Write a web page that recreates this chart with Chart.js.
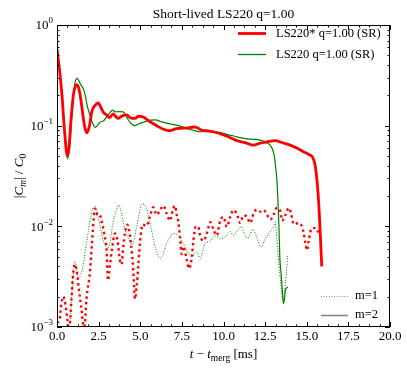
<!DOCTYPE html>
<html>
<head>
<meta charset="utf-8">
<script src="https://cdn.jsdelivr.net/npm/chart.js@4.4.0/dist/chart.umd.min.js"></script>
<style>
  html, body { margin: 0; padding: 0; background: #fff; }
  canvas { display: block; }
</style>
</head>
<body>
<canvas id="myChart" width="407" height="373"></canvas>
<script>
// LS220* (red) and LS220 (green), m=2 amplitude
const tRed2 = [0.0, 0.15, 0.3, 0.45, 0.62, 0.72, 0.85, 1.0, 1.2, 1.35, 1.5, 1.65, 1.8, 1.95, 2.1, 2.3, 2.47, 2.65, 2.8, 2.97, 3.15, 3.37, 3.55, 3.67, 3.9, 4.18, 4.4, 4.68, 4.9, 5.18, 5.5, 5.99, 6.4, 6.79, 7.1, 7.39, 7.9, 8.2, 8.4, 8.7, 9.0, 9.5, 10.0, 10.4, 10.8, 11.3, 11.8, 12.2, 12.6, 13.1, 13.5, 14.0, 14.4, 14.8, 15.1, 15.33, 15.45, 15.52, 15.62, 15.72, 15.82, 15.9]
const cRed2 = [0.58, 0.36, 0.2, 0.09, 0.05, 0.06, 0.12, 0.21, 0.255, 0.22, 0.15, 0.1, 0.085, 0.1, 0.14, 0.16, 0.168, 0.15, 0.135, 0.128, 0.12, 0.131, 0.122, 0.118, 0.125, 0.128, 0.12, 0.118, 0.124, 0.122, 0.112, 0.1, 0.092, 0.089, 0.093, 0.094, 0.095, 0.097, 0.096, 0.09, 0.089, 0.086, 0.081, 0.076, 0.071, 0.068, 0.064, 0.067, 0.069, 0.071, 0.068, 0.064, 0.06, 0.055, 0.052, 0.049, 0.044, 0.039, 0.028, 0.017, 0.008, 0.004]

const tGreen2 = [0.0, 0.15, 0.3, 0.45, 0.63, 0.75, 0.9, 1.05, 1.2, 1.4, 1.63, 1.85, 2.1, 2.31, 2.57, 2.8, 2.97, 3.15, 3.33, 3.5, 3.67, 3.98, 4.2, 4.45, 4.68, 4.9, 5.18, 5.38, 5.89, 6.3, 6.79, 7.3, 7.79, 8.2, 8.6, 9.2, 9.8, 10.2, 10.6, 11.0, 11.4, 12.0, 12.3, 12.6, 12.8, 12.95, 13.05, 13.12, 13.2, 13.27, 13.33, 13.38, 13.45, 13.52, 13.6, 13.66, 13.72, 13.86]
const cGreen2 = [0.6, 0.36, 0.2, 0.09, 0.047, 0.06, 0.13, 0.25, 0.295, 0.26, 0.22, 0.15, 0.11, 0.096, 0.108, 0.112, 0.121, 0.133, 0.143, 0.137, 0.138, 0.137, 0.12, 0.105, 0.1, 0.104, 0.108, 0.111, 0.114, 0.109, 0.104, 0.1, 0.094, 0.09, 0.087, 0.087, 0.086, 0.082, 0.079, 0.076, 0.074, 0.073, 0.071, 0.068, 0.064, 0.058, 0.05, 0.04, 0.03, 0.018, 0.01, 0.005, 0.0035, 0.0025, 0.0017, 0.0019, 0.0023, 0.0025]

// m=1 amplitude
const tRed1 = [0.0, 0.16, 0.26, 0.36, 0.5, 0.62, 0.7, 0.78, 0.87, 0.97, 1.07, 1.17, 1.31, 1.47, 1.61, 1.68, 1.77, 1.97, 2.11, 2.21, 2.27, 2.35, 2.43, 2.57, 2.67, 2.83, 2.97, 3.07, 3.17, 3.31, 3.48, 3.64, 3.78, 3.88, 3.98, 4.08, 4.22, 4.32, 4.44, 4.58, 4.68, 4.78, 4.88, 4.98, 5.14, 5.38, 5.58, 5.78, 5.99, 6.19, 6.39, 6.59, 6.79, 6.95, 7.09, 7.19, 7.29, 7.39, 7.49, 7.59, 7.79, 7.93, 8.1, 8.19, 8.33, 8.49, 8.59, 8.79, 9.0, 9.2, 9.4, 9.6, 9.8, 10.0, 10.2, 10.4, 10.6, 10.8, 11.0, 11.2, 11.4, 11.6, 11.8, 12.0, 12.21, 12.41, 12.61, 12.81, 13.0, 13.2, 13.42, 13.52, 13.72, 13.92, 14.06, 14.22, 14.52, 14.72, 14.82, 14.92, 15.02, 15.12, 15.26, 15.4, 15.52, 15.66, 15.75]
const cRed1 = [0.0011, 0.0012, 0.0017, 0.002, 0.0017, 0.0012, 0.00095, 0.0011, 0.0019, 0.0034, 0.0042, 0.0037, 0.0024, 0.0015, 0.001, 0.0011, 0.0019, 0.0034, 0.0072, 0.0124, 0.015, 0.0145, 0.013, 0.013, 0.0114, 0.0085, 0.006, 0.0029, 0.004, 0.006, 0.0085, 0.0071, 0.0046, 0.0042, 0.0063, 0.0085, 0.0104, 0.0093, 0.0068, 0.0037, 0.0019, 0.0025, 0.004, 0.0068, 0.0104, 0.0101, 0.0125, 0.0155, 0.013, 0.0145, 0.016, 0.0133, 0.0114, 0.0145, 0.016, 0.013, 0.011, 0.0078, 0.0053, 0.0063, 0.0047, 0.0038, 0.005, 0.0072, 0.0099, 0.0099, 0.0081, 0.0072, 0.0085, 0.011, 0.0093, 0.0081, 0.0114, 0.0124, 0.0099, 0.0124, 0.0145, 0.0133, 0.0108, 0.0128, 0.0125, 0.0108, 0.0133, 0.0147, 0.014, 0.0145, 0.013, 0.0117, 0.013, 0.0152, 0.014, 0.0114, 0.013, 0.0152, 0.0133, 0.0105, 0.0108, 0.0099, 0.0085, 0.0068, 0.0058, 0.0072, 0.0093, 0.0096, 0.0096, 0.0089, 0.009]

const tGreen1 = [0.77, 0.87, 0.97, 1.07, 1.17, 1.27, 1.43, 1.57, 1.77, 1.97, 2.17, 2.27, 2.43, 2.63, 2.83, 3.03, 3.17, 3.37, 3.57, 3.71, 3.88, 4.08, 4.28, 4.52, 4.78, 4.98, 5.14, 5.38, 5.6, 5.84, 5.99, 6.19, 6.39, 6.59, 6.79, 6.99, 7.29, 7.49, 7.79, 8.1, 8.4, 8.6, 8.9, 9.2, 9.5, 9.8, 10.1, 10.4, 10.6, 10.8, 11.05, 11.3, 11.44, 11.77, 12.0, 12.25, 12.51, 12.77, 13.0, 13.1, 13.25, 13.42, 13.58, 13.66, 13.77, 13.86]
const cGreen1 = [0.001, 0.0019, 0.0032, 0.0045, 0.0039, 0.0031, 0.0033, 0.0041, 0.0068, 0.0109, 0.0155, 0.016, 0.0133, 0.0093, 0.0068, 0.006, 0.0068, 0.011, 0.0145, 0.0163, 0.0133, 0.0093, 0.0078, 0.0066, 0.0099, 0.0145, 0.0168, 0.015, 0.0105, 0.0068, 0.0056, 0.0048, 0.0054, 0.0068, 0.0078, 0.0085, 0.0081, 0.0072, 0.0058, 0.005, 0.0056, 0.0048, 0.0068, 0.0071, 0.0081, 0.0076, 0.0078, 0.0089, 0.0081, 0.0089, 0.0099, 0.0081, 0.0076, 0.0093, 0.0078, 0.0062, 0.0075, 0.0087, 0.0099, 0.011, 0.0058, 0.0029, 0.0018, 0.0022, 0.0034, 0.0052]

const xTicks = [0, 2.5, 5, 7.5, 10, 12.5, 15, 17.5, 20]
const xTickLabels = ['0.0', '2.5', '5.0', '7.5', '10.0', '12.5', '15.0', '17.5', '20.0']
const yTicks = [1, 0.1, 0.01, 0.001]
const yTickExps = ['0', '\u22121', '\u22122', '\u22123']

const titleText = 'Short-lived LS220 q=1.00'
const seriesNames = ['LS220* q=1.00 (SR)', 'LS220 q=1.00 (SR)']
const modeNames = ['m=1', 'm=2']

const SERIF = '"Liberation Serif", "DejaVu Serif", serif'

function pts(ts, cs) {
  return ts.map((t, i) => ({ x: t, y: cs[i] }))
}

// draw a row of text pieces with their own fonts / vertical offsets
function drawRuns(ctx, runs, x, y, align) {
  let w = 0
  runs.forEach(r => { ctx.font = r.font; w += ctx.measureText(r.text).width })
  let cx = align === 'center' ? x - w / 2 : (align === 'right' ? x - w : x)
  ctx.textBaseline = 'middle'
  ctx.textAlign = 'left'
  runs.forEach(r => {
    ctx.font = r.font
    ctx.fillText(r.text, cx, y + (r.dy || 0))
    cx += ctx.measureText(r.text).width
  })
}

const decor = {
  id: 'decor',
  afterDraw(chart) {
    const { ctx, chartArea: a, scales: { x, y } } = chart
    ctx.save()
    ctx.fillStyle = '#000'
    ctx.strokeStyle = '#000'

    // frame
    ctx.lineWidth = 1
    ctx.strokeRect(a.left + 0.5, a.top + 0.5, a.right - a.left - 1, a.bottom - a.top - 1)

    // ticks, pointing inwards on all four sides
    ctx.beginPath()
    for (let v = 0; v <= 20.001; v += 0.625) {
      const px = Math.round(x.getPixelForValue(v)) + 0.5
      const len = (Math.abs(v / 2.5 - Math.round(v / 2.5)) < 1e-6) ? 5 : 2.5
      ctx.moveTo(px, a.bottom); ctx.lineTo(px, a.bottom - len)
      ctx.moveTo(px, a.top); ctx.lineTo(px, a.top + len)
    }
    yTicks.forEach(dec => {
      for (let k = 1; k <= 9; k++) {
        const v = dec * k
        if (v > 1.0001) continue
        const py = Math.round(y.getPixelForValue(v)) + 0.5
        const len = k === 1 ? 5 : 2.5
        ctx.moveTo(a.left, py); ctx.lineTo(a.left + len, py)
        ctx.moveTo(a.right, py); ctx.lineTo(a.right - len, py)
      }
    })
    ctx.stroke()

    // tick labels
    ctx.textAlign = 'center'
    ctx.textBaseline = 'middle'
    ctx.font = '13px ' + SERIF
    xTicks.forEach((v, i) => {
      ctx.fillText(xTickLabels[i], x.getPixelForValue(v), a.bottom + 10)
    })
    yTicks.forEach((v, i) => {
      const py = y.getPixelForValue(v)
      drawRuns(ctx, [
        { text: '10', font: '13px ' + SERIF, dy: 1 },
        { text: yTickExps[i], font: '9px ' + SERIF, dy: -4 }
      ], a.left - 4, py, 'right')
    })

    // title
    ctx.font = '13.5px ' + SERIF
    ctx.textAlign = 'center'
    ctx.fillText(titleText, (a.left + a.right) / 2, 14)

    // x axis label
    drawRuns(ctx, [
      { text: 't', font: 'italic 13px ' + SERIF },
      { text: ' \u2212 ', font: '13px ' + SERIF },
      { text: 't', font: 'italic 13px ' + SERIF },
      { text: 'merg', font: '9.5px ' + SERIF, dy: 3 },
      { text: ' [ms]', font: '13px ' + SERIF }
    ], (a.left + a.right) / 2, 355, 'center')

    // y axis label
    ctx.save()
    ctx.translate(20, (a.top + a.bottom) / 2)
    ctx.rotate(-Math.PI / 2)
    drawRuns(ctx, [
      { text: '|', font: '13px ' + SERIF },
      { text: 'C', font: 'italic 13px ' + SERIF },
      { text: 'm', font: 'italic 9.5px ' + SERIF, dy: 3 },
      { text: '| / ', font: '13px ' + SERIF },
      { text: 'C', font: 'italic 13px ' + SERIF },
      { text: '0', font: '9.5px ' + SERIF, dy: 3 }
    ], 0, 0, 'center')
    ctx.restore()

    // legend: series
    const legX0 = 238, legX1 = 266, legTx = 276
    ctx.lineCap = 'butt'
    ctx.setLineDash([])
    ctx.strokeStyle = '#ff0000'; ctx.lineWidth = 2.8
    ctx.beginPath(); ctx.moveTo(legX0, 33.5); ctx.lineTo(legX1, 33.5); ctx.stroke()
    ctx.strokeStyle = '#008000'; ctx.lineWidth = 1.3
    ctx.beginPath(); ctx.moveTo(legX0, 54.5); ctx.lineTo(legX1, 54.5); ctx.stroke()
    ctx.font = '12.5px ' + SERIF
    ctx.textAlign = 'left'
    ctx.fillText(seriesNames[0], legTx, 34)
    ctx.fillText(seriesNames[1], legTx, 55)

    // legend: modes
    ctx.strokeStyle = '#808080'
    ctx.lineWidth = 0.9
    ctx.setLineDash([1, 1.6])
    ctx.beginPath(); ctx.moveTo(321, 296.5); ctx.lineTo(348, 296.5); ctx.stroke()
    ctx.setLineDash([])
    ctx.lineWidth = 1.5
    ctx.beginPath(); ctx.moveTo(321, 315.5); ctx.lineTo(348, 315.5); ctx.stroke()
    ctx.fillText(modeNames[0], 355, 296)
    ctx.fillText(modeNames[1], 355, 315)

    ctx.restore()
  }
}

const data = {
  datasets: [
    {
      label: 'LS220* m=1',
      data: pts(tRed1, cRed1),
      borderColor: '#ff0000',
      borderWidth: 2.4,
      borderDash: [2.4, 3.2],
      pointRadius: 0,
      cubicInterpolationMode: 'monotone'
    },
    {
      label: 'LS220 m=1',
      data: pts(tGreen1, cGreen1),
      borderColor: '#008000',
      borderWidth: 1,
      borderDash: [1, 1.65],
      pointRadius: 0,
      cubicInterpolationMode: 'monotone'
    },
    {
      label: 'LS220* m=2',
      data: pts(tRed2, cRed2),
      borderColor: '#ff0000',
      borderWidth: 2.8,
      pointRadius: 0,
      cubicInterpolationMode: 'monotone'
    },
    {
      label: 'LS220 m=2',
      data: pts(tGreen2, cGreen2),
      borderColor: '#008000',
      borderWidth: 1.2,
      pointRadius: 0,
      cubicInterpolationMode: 'monotone'
    }
  ]
}

const config = {
  type: 'line',
  data: data,
  options: {
    responsive: false,
    animation: false,
    layout: { padding: { left: 57, right: 17, top: 25, bottom: 46 } },
    plugins: { legend: { display: false }, title: { display: false }, tooltip: { enabled: false } },
    scales: {
      x: { type: 'linear', min: 0, max: 20, display: false },
      y: { type: 'logarithmic', min: 0.001, max: 1, display: false }
    }
  },
  plugins: [decor]
}

const myChart = new Chart(document.getElementById('myChart'), config)
</script>
</body>
</html>
